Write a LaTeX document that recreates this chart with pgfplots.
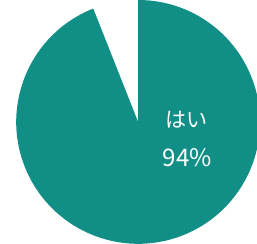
\documentclass[border=0pt]{standalone}
\usepackage{pgfplots}
\usepackage{pgfplotstable}
\pgfplotsset{compat=1.18}
\usepackage{fontspec}
\newfontfamily\cjk{Noto Sans CJK JP}
\definecolor{pieteal}{HTML}{118F87}
\pgfplotstableread{
label value
yes 94
no 6
}\piedata
\begin{document}
\begin{tikzpicture}
\pgfplotstablegetelem{0}{value}\of\piedata
\pgfmathtruncatemacro\yesval{\pgfplotsretval}
\pgfplotstablegetelem{1}{value}\of\piedata
\pgfmathtruncatemacro\noval{\pgfplotsretval}
\pgfmathsetmacro\startang{90+\noval*3.6}
\pgfmathsetmacro\endang{\startang+\yesval*3.6}
\begin{axis}[
  x=1pt, y=1pt,
  xmin=-139, xmax=118, ymin=-121, ymax=123,
  hide axis, clip=true,
  scale only axis,
]
\fill[pieteal] (axis cs:0,0) -- ++(\startang:121pt) arc[start angle=\startang, end angle=\endang, radius=121pt] -- cycle;
\node[text=white, font=\cjk\fontsize{21}{25}\selectfont] at (axis cs:48,2) {はい};
\node[text=white, font=\cjk\fontsize{24}{28}\selectfont] at (axis cs:49,-35) {\yesval\%};
\end{axis}
\end{tikzpicture}
\end{document}
